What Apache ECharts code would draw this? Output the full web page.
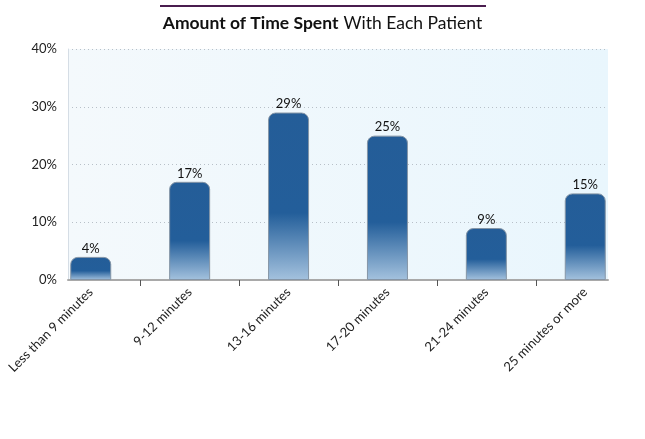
<!DOCTYPE html>
<html>
<head>
<meta charset="utf-8">
<script src="https://cdn.jsdelivr.net/npm/echarts@6/dist/echarts.min.js"></script>
<style>
html,body{margin:0;padding:0;background:#fff;}
#main{width:645px;height:439px;}
</style>
</head>
<body>
<div id="main"></div>
<script>
const categories = ["Less than 9 minutes", "9-12 minutes", "13-16 minutes", "17-20 minutes", "21-24 minutes", "25 minutes or more"];
const values = [4, 17, 29, 25, 9, 15];
const yTicks = [0, 10, 20, 30, 40];

const FONT = 'Lato, "Open Sans", sans-serif';
const chart = echarts.init(document.getElementById('main'));

const option = {
  animation: false,
  title: {
    text: '{b|Amount of Time Spent} {n|With Each Patient}',
    left: 'center',
    top: 9,
    textStyle: {
      rich: {
        b: { fontFamily: FONT, fontSize: 17.5, fontWeight: 'bold', color: '#111' },
        n: { fontFamily: FONT, fontSize: 17.5, fontWeight: 'normal', color: '#111' }
      }
    }
  },
  graphic: [{
    type: 'line',
    shape: { x1: 160, y1: 6, x2: 486, y2: 6 },
    style: { stroke: '#4a1d4f', lineWidth: 2 }
  }],
  grid: {
    left: 68, right: 37, top: 49, bottom: 159,
    show: true,
    borderWidth: 0,
    backgroundColor: new echarts.graphic.LinearGradient(0, 0, 1, 0, [
      { offset: 0, color: '#f4f9fc' },
      { offset: 1, color: '#e9f6fd' }
    ])
  },
  xAxis: {
    type: 'value',
    min: -0.23,
    max: 5.23,
    splitLine: { show: false },
    axisLine: { show: true, onZero: false, lineStyle: { color: '#a9a9a9', width: 2 } },
    axisTick: {
      show: true,
      customValues: [0.5, 1.5, 2.5, 3.5, 4.5],
      length: 6,
      lineStyle: { color: '#555', width: 1 }
    },
    axisLabel: {
      customValues: categories.map((c, i) => i),
      rotate: 45,
      margin: 10,
      fontFamily: FONT,
      fontSize: 13,
      color: '#222',
      formatter: v => categories[Math.round(v)]
    }
  },
  yAxis: {
    type: 'value',
    min: 0,
    max: 40,
    interval: 10,
    axisLine: { show: true, onZero: false, lineStyle: { color: '#d5dde5', width: 1 } },
    axisTick: { show: false },
    axisLabel: {
      fontFamily: FONT,
      fontSize: 13,
      color: '#222',
      margin: 11,
      formatter: v => yTicks.includes(v) ? v + '%' : ''
    },
    splitLine: { show: true, lineStyle: { color: '#b8c0c8', type: [1, 3], width: 1 } }
  },
  series: [{
    type: 'bar',
    barWidth: 41,
    data: values.map((v, i) => [i, v]),
    itemStyle: {
      borderRadius: [7, 7, 0, 0],
      borderColor: '#8595a6',
      borderWidth: 1,
      color: new echarts.graphic.LinearGradient(0, 0, 0, 1, [
        { offset: 0, color: '#245d98' },
        { offset: 0.6, color: '#235e9a' },
        { offset: 1, color: '#a4c2de' }
      ])
    },
    label: {
      show: true,
      position: 'top',
      distance: 2,
      fontFamily: FONT,
      fontSize: 13,
      color: '#111',
      formatter: p => p.value[1] + '%'
    }
  }]
};
chart.setOption(option);
</script>
</body>
</html>
